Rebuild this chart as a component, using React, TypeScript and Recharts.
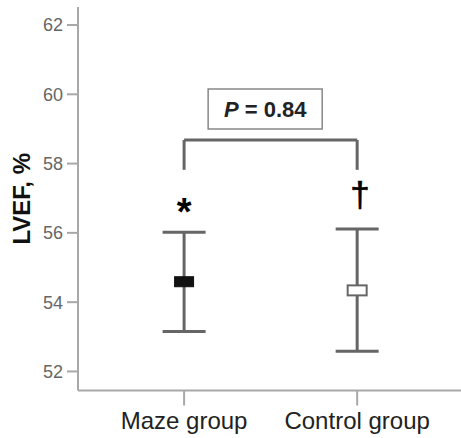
import React from 'react';
import {
  ComposedChart,
  Scatter,
  ErrorBar,
  XAxis,
  YAxis,
  ReferenceLine,
  ReferenceArea,
  ReferenceDot,
} from 'recharts';

// LVEF by group: mean with 95% CI.
const groups = ['Maze group', 'Control group'];
const means = [54.59, 54.34];
const lowerCI = [53.15, 52.58];
const upperCI = [56.02, 56.11];
const markers = ['*', '†'];
const markerY = [56.62, 57.1];
const yTicks = [52, 54, 56, 58, 60, 62];
const pLabel = '0.84';

// bracket between the groups
const bracketTop = 58.68;
const bracketFoot = 57.82;

const FONT = '"Liberation Sans", Arial, sans-serif';
const AXIS = '#a8a8a8';
const BAR = '#666';

const rows = groups.map((g, i) => ({
  x: i + 1,
  name: g,
  mean: means[i],
  ci: [means[i] - lowerCI[i], upperCI[i] - means[i]],
}));

function MeanBox(props: any) {
  const { cx, cy, filled } = props;
  return (
    <rect
      x={cx - 9.5}
      y={cy - 5}
      width={19}
      height={10}
      fill={filled ? '#111' : '#fff'}
      stroke={filled ? '#111' : BAR}
      strokeWidth={filled ? 1 : 2}
    />
  );
}

function PBox(props: any) {
  const { viewBox } = props;
  const cx = viewBox.x + viewBox.width / 2;
  const cy = viewBox.y + viewBox.height / 2;
  return (
    <text
      x={cx}
      y={cy}
      textAnchor="middle"
      dominantBaseline="central"
      fontFamily={FONT}
      fontWeight="bold"
      fontSize={22}
      fill="#222"
    >
      <tspan fontStyle="italic">P</tspan>
      <tspan> = {pLabel}</tspan>
    </text>
  );
}

function YLabel(props: any) {
  const { viewBox } = props;
  const x = viewBox.x + 21;
  const y = viewBox.y + viewBox.height / 2;
  return (
    <text
      x={x}
      y={y}
      transform={`rotate(-90, ${x}, ${y})`}
      textAnchor="middle"
      dominantBaseline="central"
      fontFamily={FONT}
      fontWeight="bold"
      fontSize={24}
      fill="#111"
    >
      LVEF, %
    </text>
  );
}

export default function App() {
  return (
    <div style={{ position: 'absolute', left: 0, top: 0, background: '#fff' }}>
      <ComposedChart
        width={461}
        height={438}
        margin={{ top: 7, right: 0, bottom: 0, left: 0 }}
      >
        <XAxis
          type="number"
          dataKey="x"
          domain={[0.387, 2.6]}
          ticks={[1, 2]}
          tickFormatter={(v: number) => groups[v - 1]}
          height={47.5}
          tickSize={15}
          tickMargin={6}
          stroke={AXIS}
          strokeWidth={2}
          allowDataOverflow
          tick={{ fontFamily: FONT, fontSize: 24, fill: '#222' }}
        />
        <YAxis
          type="number"
          domain={[51.45, 62.52]}
          ticks={yTicks}
          width={78}
          tickSize={11}
          tickMargin={4}
          stroke={AXIS}
          strokeWidth={2}
          allowDataOverflow
          tick={{ fontFamily: FONT, fontSize: 18, fill: '#666' }}
          label={<YLabel />}
        />
        <ReferenceLine
          segment={[{ x: 1, y: bracketFoot }, { x: 1, y: bracketTop }]}
          stroke={BAR}
          strokeWidth={3}
        />
        <ReferenceLine
          segment={[{ x: 1, y: bracketTop }, { x: 2, y: bracketTop }]}
          stroke={BAR}
          strokeWidth={3}
        />
        <ReferenceLine
          segment={[{ x: 2, y: bracketTop }, { x: 2, y: bracketFoot }]}
          stroke={BAR}
          strokeWidth={3}
        />
        <ReferenceArea
          x1={1.139}
          x2={1.798}
          y1={59.0}
          y2={60.15}
          fill="#fff"
          fillOpacity={1}
          stroke="#888"
          strokeWidth={1.5}
          label={<PBox />}
        />
        {rows.map((r, i) => (
          <ReferenceDot
            key={'m' + i}
            x={r.x + (i === 1 ? 0.017 : 0)}
            y={markerY[i]}
            r={0}
            stroke="none"
            label={{
              value: markers[i],
              position: 'center',
              fontFamily: FONT,
              fontWeight: i === 0 ? 'bold' : 'normal',
              fontSize: i === 0 ? 38 : 35,
              fill: '#000',
              stroke: i === 0 ? 'none' : '#000',
              strokeWidth: i === 0 ? 0 : 0.6,
              strokeLinejoin: 'round',
            }}
          />
        ))}
        {rows.map((r, i) => (
          <Scatter
            key={r.name}
            data={[r]}
            dataKey="mean"
            isAnimationActive={false}
            shape={(p: any) => <MeanBox {...p} filled={i === 0} />}
          >
            <ErrorBar
              dataKey="ci"
              direction="y"
              width={21.5}
              stroke={BAR}
              strokeWidth={3}
            />
          </Scatter>
        ))}
      </ComposedChart>
    </div>
  );
}
